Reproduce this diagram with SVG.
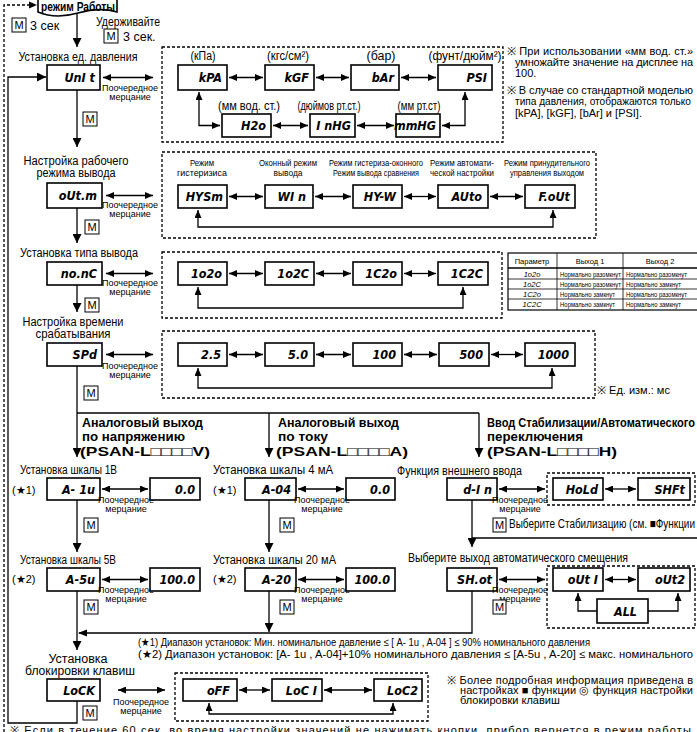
<svg xmlns="http://www.w3.org/2000/svg" width="697" height="732" viewBox="0 0 697 732">
<defs>
<marker id="ah" viewBox="0 0 8 7" refX="8" refY="3.5" markerWidth="8" markerHeight="7" markerUnits="userSpaceOnUse" orient="auto-start-reverse"><path d="M0,0L8,3.5L0,7z" fill="#000"/></marker>
<marker id="ab" viewBox="0 0 9 9" refX="9" refY="4.5" markerWidth="9" markerHeight="9" markerUnits="userSpaceOnUse" orient="auto-start-reverse"><path d="M0,0L9,4.5L0,9z" fill="#000"/></marker>
</defs>
<style>
.bx{fill:#fff;stroke:#000;stroke-width:1.6}
.dsh{fill:none;stroke:#000;stroke-width:1.3;stroke-dasharray:3 2}
.ln{fill:none;stroke:#000;stroke-width:1.3}
.lr{fill:none;stroke:#000;stroke-width:1.3;marker-start:url(#ah);marker-end:url(#ah)}
.la{fill:none;stroke:#000;stroke-width:1.3;marker-end:url(#ab)}
.ls{fill:none;stroke:#000;stroke-width:1.3;marker-start:url(#ah)}
.d{font-family:"DejaVu Sans Condensed","DejaVu Sans",sans-serif;font-stretch:condensed;font-weight:bold;font-style:oblique;font-size:12.5px;text-anchor:end}
.t{font-family:"Liberation Sans Narrow","Liberation Sans",sans-serif;font-size:12.5px}
.n{font-family:"Liberation Sans Narrow","Liberation Sans",sans-serif;font-size:11px}
.s{font-family:"Liberation Sans Narrow","Liberation Sans",sans-serif;font-size:9px;text-anchor:middle}
.q{font-family:"Liberation Sans Narrow","Liberation Sans",sans-serif;font-size:8.5px;text-anchor:middle}
.c{text-anchor:middle}
.b{font-family:"Liberation Sans",sans-serif;font-weight:bold;font-size:13px}
.mb{fill:#fff;stroke:#000;stroke-width:1}
.m{font-family:"Liberation Sans",sans-serif;font-size:11px;text-anchor:middle}
.tb{font-family:"Liberation Sans Narrow","Liberation Sans",sans-serif;font-size:7.5px}
</style>
<rect width="697" height="732" fill="#fff"/>

<g id="connectors">
<path class="dsh" d="M4,732V5H30"/>
<path d="M29,1.5L37,5L29,8.5z" fill="#000"/>
<path class="la" d="M77,14V47"/>
<path class="la" d="M77,90V147"/>
<path class="la" d="M77,208V243"/>
<path class="la" d="M77,285V312"/>
<path class="la" d="M77,366V457"/>
<path class="ln" d="M77,413H479"/>
<path class="la" d="M269,413V457"/>
<path class="la" d="M479,413V457"/>
<path class="la" d="M77,500V552"/>
<path class="la" d="M269,500V552"/>
<path class="la" d="M472,500V547"/>
<path class="ln" d="M472,538H697"/>
<path class="la" d="M77,591V650"/>
<path class="la" d="M269,591V632"/>
<path class="ln" d="M472,591V633H79"/>
<path d="M87,629.5L78,633L87,636.5z" fill="#000"/>
<path class="la" d="M77,701V723H8V77H46"/>
<path class="lr" d="M103,77.5H153"/>
<path class="lr" d="M106,195.5H153"/>
<path class="lr" d="M106,273.5H153"/>
<path class="lr" d="M106,354.5H153"/>
<path class="lr" d="M102,489H148"/>
<path class="lr" d="M102,579.5H148"/>
<path class="lr" d="M298,489H344"/>
<path class="lr" d="M298,579.5H344"/>
<path class="lr" d="M499,489H545"/>
<path class="lr" d="M499,579.5H545"/>
<path class="lr" d="M118,690H165"/>
<path class="lr" d="M229,77.5H263"/>
<path class="lr" d="M316,77.5H349"/>
<path class="lr" d="M401,77.5H436"/>
<path class="lr" d="M273,125.5H308"/>
<path class="lr" d="M357,125.5H394"/>
<path class="lr" d="M199,92V125.5H220"/>
<path class="lr" d="M465,92V125.5H442"/>
<path class="lr" d="M229,196.5H263"/>
<path class="lr" d="M315,196.5H351"/>
<path class="lr" d="M404,196.5H436"/>
<path class="lr" d="M490,196.5H523"/>
<path class="lr" d="M198,210V227H553V210"/>
<path class="lr" d="M229,273.5H263"/>
<path class="lr" d="M316,273.5H351"/>
<path class="lr" d="M404,273.5H436"/>
<path class="lr" d="M198,287V308H463V287"/>
<path class="lr" d="M229,354.5H263"/>
<path class="lr" d="M316,354.5H351"/>
<path class="lr" d="M404,354.5H437"/>
<path class="lr" d="M491,354.5H523"/>
<path class="lr" d="M198,368V388H552V368"/>
<path class="lr" d="M605,489H636"/>
<path class="lr" d="M605,579.5H636"/>
<path class="ls" d="M578,593V611H597"/>
<path class="ls" d="M678,593V611H648"/>
<path class="lr" d="M239,690H270"/>
<path class="lr" d="M324,690H372"/>
<path class="lr" d="M209,703V714H393V703"/>
</g>

<rect class="dsh" x="162" y="47" width="341" height="95"/>
<rect class="dsh" x="162" y="152" width="434" height="86"/>
<rect class="dsh" x="162" y="252" width="340" height="66"/>
<rect class="dsh" x="162" y="331" width="433" height="67"/>
<rect class="dsh" x="547" y="473" width="148" height="32"/>
<rect class="dsh" x="547" y="566" width="148" height="62"/>
<rect class="dsh" x="175" y="673" width="253" height="48"/>

<g id="run-mode">
<path class="bx" d="M38,-2H117V12C104,8 92,9 78,13C64,17 50,17 38,12Z"/>
<text class="b c" x="78" y="10.5" font-size="12" textLength="74" lengthAdjust="spacingAndGlyphs">режим Работы</text>
</g>
<g id="m-top"><rect class="mb" x="12" y="18" width="14" height="14"/><text class="m" x="19" y="29">M</text><text class="t" x="30" y="30">3 сек</text></g>
<g id="hold"><text class="t" x="96" y="26" textLength="64" lengthAdjust="spacingAndGlyphs">Удерживайте</text><rect class="mb" x="104" y="29" width="14" height="14"/><text class="m" x="111" y="40">M</text><text class="t" x="123" y="41">3 сек.</text></g>

<g id="unit">
<text class="t c" x="78" y="61" textLength="119" lengthAdjust="spacingAndGlyphs">Установка ед. давления</text>
<rect class="bx" x="47" y="65" width="53" height="25"/><text class="d" x="95" y="82">UnI t</text>
<text class="s" x="130" y="91">Поочередное</text><text class="s" x="130" y="100">мерцание</text>
<rect class="mb" x="83" y="112" width="14" height="14"/><text class="m" x="90" y="123">M</text>
</g>
<g id="outm">
<text class="t c" x="76" y="165" textLength="105" lengthAdjust="spacingAndGlyphs">Настройка рабочего</text>
<text class="t c" x="76" y="177" textLength="79" lengthAdjust="spacingAndGlyphs">режима вывода</text>
<rect class="bx" x="47" y="183" width="55" height="25"/><text class="d" x="97" y="200">oUt.m</text>
<text class="s" x="130" y="208">Поочередное</text><text class="s" x="130" y="217">мерцание</text>
<rect class="mb" x="85" y="220" width="14" height="14"/><text class="m" x="92" y="231">M</text>
</g>
<g id="nonc">
<text class="t c" x="79" y="257" textLength="118" lengthAdjust="spacingAndGlyphs">Установка типа вывода</text>
<rect class="bx" x="47" y="262" width="55" height="23"/><text class="d" x="97" y="278">no.nC</text>
<text class="s" x="130" y="286">Поочередное</text><text class="s" x="130" y="295">мерцание</text>
<rect class="mb" x="85" y="298" width="14" height="14"/><text class="m" x="92" y="309">M</text>
</g>
<g id="spd">
<text class="t c" x="73" y="326" font-size="12" textLength="101" lengthAdjust="spacingAndGlyphs">Настройка времени</text>
<text class="t c" x="73" y="338" font-size="12" textLength="75" lengthAdjust="spacingAndGlyphs">срабатывания</text>
<rect class="bx" x="47" y="343" width="55" height="23"/><text class="d" x="97" y="359">SPd</text>
<text class="s" x="130" y="369">Поочередное</text><text class="s" x="130" y="378">мерцание</text>
<rect class="mb" x="84" y="386" width="14" height="14"/><text class="m" x="91" y="397">M</text>
</g>

<g id="units">
<text class="t c" x="203" y="60" font-size="12" textLength="25" lengthAdjust="spacingAndGlyphs">(кПа)</text>
<text class="t c" x="288" y="60" font-size="12" textLength="42" lengthAdjust="spacingAndGlyphs">(кгс/см²)</text>
<text class="t c" x="381" y="60" font-size="12" textLength="29" lengthAdjust="spacingAndGlyphs">(бар)</text>
<text class="t c" x="465" y="60" font-size="12" textLength="73" lengthAdjust="spacingAndGlyphs">(фунт/дюйм²)</text>
<rect class="bx" x="178" y="65" width="49" height="25"/><text class="d" x="222" y="82">kPA</text>
<rect class="bx" x="265" y="65" width="49" height="25"/><text class="d" x="309" y="82">kGF</text>
<rect class="bx" x="351" y="65" width="48" height="25"/><text class="d" x="394" y="82">bAr</text>
<rect class="bx" x="438" y="65" width="54" height="25"/><text class="d" x="487" y="82">PSI</text>
<text class="t c" x="249" y="110" font-size="12" textLength="62" lengthAdjust="spacingAndGlyphs">(мм вод. ст.)</text>
<text class="t c" x="329" y="110" font-size="12" textLength="63" lengthAdjust="spacingAndGlyphs">(дюймов рт.ст.)</text>
<text class="t c" x="419" y="110" font-size="12" textLength="43" lengthAdjust="spacingAndGlyphs">(мм рт.ст)</text>
<rect class="bx" x="222" y="114" width="49" height="23"/><text class="d" x="266" y="130">H2o</text>
<rect class="bx" x="310" y="114" width="45" height="23"/><text class="d" x="351" y="130">I nHG</text>
<rect class="bx" x="396" y="114" width="44" height="23"/><text class="d" x="436" y="130">mmHG</text>
</g>
<g id="notes-top">
<text class="n" x="507" y="55" textLength="186" lengthAdjust="spacing">※ При использовании «мм вод. ст.»</text>
<text class="n" x="515" y="66" textLength="178" lengthAdjust="spacing">умножайте значение на дисплее на</text>
<text class="n" x="515" y="77">100.</text>
<text class="n" x="507" y="94" textLength="186" lengthAdjust="spacing">※ В случае со стандартной моделью</text>
<text class="n" x="515" y="105" textLength="176" lengthAdjust="spacingAndGlyphs">типа давления, отображаются только</text>
<text class="n" x="515" y="117">[kPA], [kGF], [bAr] и [PSI].</text>
</g>

<g id="modes">
<text class="q" x="202" y="166" textLength="24" lengthAdjust="spacingAndGlyphs">Режим</text><text class="q" x="202" y="176" textLength="50" lengthAdjust="spacingAndGlyphs">гистеризиса</text>
<text class="q" x="288" y="166" textLength="58" lengthAdjust="spacingAndGlyphs">Оконный режим</text><text class="q" x="288" y="176" textLength="29" lengthAdjust="spacingAndGlyphs">вывода</text>
<text class="q" x="376" y="166" textLength="94" lengthAdjust="spacingAndGlyphs">Режим гистериза-оконного</text><text class="q" x="376" y="176" textLength="86" lengthAdjust="spacingAndGlyphs">Режим вывода сравнения</text>
<text class="q" x="462" y="166" textLength="64" lengthAdjust="spacingAndGlyphs">Режим автомати-</text><text class="q" x="462" y="176" textLength="64" lengthAdjust="spacingAndGlyphs">ческой настройки</text>
<text class="q" x="547" y="166" textLength="86" lengthAdjust="spacingAndGlyphs">Режим принудительного</text><text class="q" x="547" y="176" textLength="74" lengthAdjust="spacingAndGlyphs">управления выходом</text>
<rect class="bx" x="178" y="185" width="49" height="23"/><text class="d" x="223" y="201">HYSm</text>
<rect class="bx" x="265" y="185" width="48" height="23"/><text class="d" x="306" y="201">WI n</text>
<rect class="bx" x="353" y="185" width="49" height="23"/><text class="d" x="396" y="201">HY-W</text>
<rect class="bx" x="438" y="185" width="50" height="23"/><text class="d" x="482" y="201">AUto</text>
<rect class="bx" x="525" y="185" width="50" height="23"/><text class="d" x="570" y="201">F.oUt</text>
</g>

<g id="types">
<rect class="bx" x="178" y="262" width="49" height="23"/><text class="d" x="222" y="278">1o2o</text>
<rect class="bx" x="265" y="262" width="49" height="23"/><text class="d" x="309" y="278">1o2C</text>
<rect class="bx" x="353" y="262" width="49" height="23"/><text class="d" x="397" y="278">1C2o</text>
<rect class="bx" x="438" y="262" width="50" height="23"/><text class="d" x="483" y="278">1C2C</text>
</g>
<g id="table">
<rect x="508" y="253" width="192" height="57" fill="#fff" stroke="#000" stroke-width="1.2"/>
<path d="M557,253V310M623,253V310M508,279H700M508,289H700M508,299H700" stroke="#000" stroke-width="0.8" fill="none"/>
<path d="M508,268H700" stroke="#000" stroke-width="1.3"/>
<text class="tb c" x="532" y="264" font-size="10">Параметр</text>
<text class="tb c" x="590" y="264" font-size="10">Выход 1</text>
<text class="tb c" x="660" y="264" font-size="10">Выход 2</text>
<text class="tb c" x="532" y="276.5" font-style="italic">1o2o</text>
<text class="tb c" x="532" y="286.5" font-style="italic">1o2C</text>
<text class="tb c" x="532" y="296.5" font-style="italic">1C2o</text>
<text class="tb c" x="532" y="306.5" font-style="italic">1C2C</text>
<text class="tb" x="560" y="276.5" textLength="61" lengthAdjust="spacingAndGlyphs">Нормально разомкнут</text>
<text class="tb" x="560" y="286.5" textLength="61" lengthAdjust="spacingAndGlyphs">Нормально разомкнут</text>
<text class="tb" x="560" y="296.5" textLength="55" lengthAdjust="spacingAndGlyphs">Нормально замкнут</text>
<text class="tb" x="560" y="306.5" textLength="55" lengthAdjust="spacingAndGlyphs">Нормально замкнут</text>
<text class="tb" x="626" y="276.5" textLength="61" lengthAdjust="spacingAndGlyphs">Нормально разомкнут</text>
<text class="tb" x="626" y="286.5" textLength="55" lengthAdjust="spacingAndGlyphs">Нормально замкнут</text>
<text class="tb" x="626" y="296.5" textLength="61" lengthAdjust="spacingAndGlyphs">Нормально разомкнут</text>
<text class="tb" x="626" y="306.5" textLength="55" lengthAdjust="spacingAndGlyphs">Нормально замкнут</text>
</g>

<g id="times">
<rect class="bx" x="178" y="343" width="49" height="23"/><text class="d" x="221" y="359">2.5</text>
<rect class="bx" x="265" y="343" width="49" height="23"/><text class="d" x="308" y="359">5.0</text>
<rect class="bx" x="353" y="343" width="49" height="23"/><text class="d" x="396" y="359">100</text>
<rect class="bx" x="439" y="343" width="50" height="23"/><text class="d" x="483" y="359">500</text>
<rect class="bx" x="525" y="343" width="50" height="23"/><text class="d" x="569" y="359">1000</text>
<text class="n" x="597" y="394">※ Ед. изм.: мс</text>
</g>

<g id="head-v">
<text class="b" x="82" y="427" textLength="121" lengthAdjust="spacingAndGlyphs">Аналоговый выход</text>
<text class="b" x="82" y="441" textLength="103" lengthAdjust="spacingAndGlyphs">по напряжению</text>
<text class="b" x="80" y="456" textLength="130" lengthAdjust="spacingAndGlyphs">(PSAN-L□□□□V)</text>
</g>
<g id="head-a">
<text class="b" x="278" y="427" textLength="121" lengthAdjust="spacingAndGlyphs">Аналоговый выход</text>
<text class="b" x="278" y="441" textLength="50" lengthAdjust="spacingAndGlyphs">по току</text>
<text class="b" x="276" y="456" textLength="132" lengthAdjust="spacingAndGlyphs">(PSAN-L□□□□A)</text>
</g>
<g id="head-h">
<text class="b" x="487" y="427" textLength="208" lengthAdjust="spacingAndGlyphs">Ввод Стабилизации/Автоматического</text>
<text class="b" x="487" y="441" textLength="96" lengthAdjust="spacingAndGlyphs">переключения</text>
<text class="b" x="487" y="456" textLength="130" lengthAdjust="spacingAndGlyphs">(PSAN-L□□□□H)</text>
</g>

<g id="a1u">
<text class="t" x="20" y="474" textLength="97" lengthAdjust="spacingAndGlyphs">Установка шкалы 1В</text>
<text class="n" x="12" y="494">(★1)</text>
<rect class="bx" x="47" y="478" width="53" height="22"/><text class="d" x="95" y="494">A- 1u</text>
<text class="s" x="126" y="503">Поочередное</text><text class="s" x="126" y="512">мерцание</text>
<rect class="mb" x="84" y="518" width="14" height="14"/><text class="m" x="91" y="529">M</text>
</g>
<g id="v00"><rect class="bx" x="150" y="478" width="50" height="22"/><text class="d" x="195" y="494">0.0</text></g>
<g id="a5u">
<text class="t" x="20" y="564" textLength="96" lengthAdjust="spacingAndGlyphs">Установка шкалы 5В</text>
<text class="n" x="12" y="583">(★2)</text>
<rect class="bx" x="47" y="568" width="53" height="23"/><text class="d" x="95" y="584">A-5u</text>
<text class="s" x="126" y="593">Поочередное</text><text class="s" x="126" y="602">мерцание</text>
<rect class="mb" x="84" y="600" width="14" height="14"/><text class="m" x="91" y="611">M</text>
</g>
<g id="v100"><rect class="bx" x="150" y="568" width="50" height="23"/><text class="d" x="195" y="584">100.0</text></g>

<g id="a04">
<text class="t" x="213" y="474" textLength="120" lengthAdjust="spacingAndGlyphs">Установка шкалы 4 мА</text>
<text class="n" x="213" y="494">(★1)</text>
<rect class="bx" x="245" y="478" width="51" height="22"/><text class="d" x="291" y="494">A-04</text>
<text class="s" x="322" y="503">Поочередное</text><text class="s" x="322" y="512">мерцание</text>
<rect class="mb" x="280" y="518" width="14" height="14"/><text class="m" x="287" y="529">M</text>
</g>
<g id="c00"><rect class="bx" x="346" y="478" width="49" height="22"/><text class="d" x="390" y="494">0.0</text></g>
<g id="a20">
<text class="t" x="213" y="564" textLength="123" lengthAdjust="spacingAndGlyphs">Установка шкалы 20 мА</text>
<text class="n" x="213" y="583">(★2)</text>
<rect class="bx" x="245" y="568" width="51" height="23"/><text class="d" x="291" y="584">A-20</text>
<text class="s" x="322" y="593">Поочередное</text><text class="s" x="322" y="602">мерцание</text>
<rect class="mb" x="280" y="600" width="14" height="14"/><text class="m" x="287" y="611">M</text>
</g>
<g id="c100"><rect class="bx" x="346" y="568" width="49" height="23"/><text class="d" x="390" y="584">100.0</text></g>

<g id="din">
<text class="t" x="397" y="475" textLength="125" lengthAdjust="spacingAndGlyphs">Функция внешнего ввода</text>
<rect class="bx" x="447" y="478" width="50" height="22"/><text class="d" x="492" y="494">d-I n</text>
<text class="s" x="520" y="503">Поочередное</text><text class="s" x="520" y="512">мерцание</text>
<rect class="mb" x="493" y="518" width="13" height="14"/><text class="m" x="499.5" y="529">M</text>
<text class="t" x="509" y="528" textLength="186" lengthAdjust="spacingAndGlyphs">Выберите Стабилизацию (см. ■Функции</text>
</g>
<g id="hold-box"><rect class="bx" x="553" y="478" width="50" height="22"/><text class="d" x="598" y="494">HoLd</text></g>
<g id="shft-box"><rect class="bx" x="638" y="478" width="52" height="22"/><text class="d" x="685" y="494">SHFt</text></g>
<g id="shot">
<text class="t" x="408" y="562" textLength="220" lengthAdjust="spacingAndGlyphs">Выберите выход автоматического смещения</text>
<rect class="bx" x="447" y="568" width="50" height="23"/><text class="d" x="492" y="584">SH.ot</text>
<text class="s" x="520" y="593">Поочередное</text><text class="s" x="520" y="602">мерцание</text>
<rect class="mb" x="493" y="600" width="13" height="14"/><text class="m" x="499.5" y="611">M</text>
</g>
<g id="out1"><rect class="bx" x="553" y="568" width="50" height="23"/><text class="d" x="598" y="584">oUt I</text></g>
<g id="out2"><rect class="bx" x="638" y="568" width="52" height="23"/><text class="d" x="685" y="584">oUt2</text></g>
<g id="all"><rect class="bx" x="597" y="599" width="51" height="24"/><text class="d" x="637" y="616">ALL</text></g>

<g id="star-notes">
<text class="n" x="138" y="646" textLength="452" lengthAdjust="spacingAndGlyphs">(★1) Диапазон установок: Мин. номинальное давление ≤ [ A- 1u , A-04 ] ≤  90% номинального давления</text>
<text class="n" x="138" y="658" textLength="555" lengthAdjust="spacingAndGlyphs">(★2) Диапазон установок: [A- 1u , A-04]+10% номинального давления ≤ [A-5u , A-20] ≤ макс. номинального</text>
</g>

<g id="lock">
<text class="t c" x="78" y="663">Установка</text>
<text class="t c" x="80" y="675" textLength="110" lengthAdjust="spacingAndGlyphs">блокировки клавиш</text>
<rect class="bx" x="47" y="679" width="53" height="22"/><text class="d" x="95" y="695">LoCK</text>
<text class="s" x="141" y="705">Поочередное</text><text class="s" x="141" y="714">мерцание</text>
<rect class="mb" x="83" y="706" width="14" height="14"/><text class="m" x="90" y="717">M</text>
</g>
<g id="off"><rect class="bx" x="183" y="679" width="54" height="22"/><text class="d" x="230" y="695">oFF</text></g>
<g id="loc1"><rect class="bx" x="272" y="679" width="50" height="22"/><text class="d" x="317" y="695">LoC I</text></g>
<g id="loc2"><rect class="bx" x="374" y="679" width="48" height="22"/><text class="d" x="418" y="695">LoC2</text></g>
<g id="lock-note">
<text class="n" x="447" y="684" font-size="10.5" textLength="246" lengthAdjust="spacing">※ Более подробная информация приведена в</text>
<text class="n" x="460" y="694" font-size="10.5" textLength="233" lengthAdjust="spacing">настройках ■ функции ◎ функция настройки</text>
<text class="n" x="460" y="704" font-size="10.5">блокировки клавиш</text>
</g>
<text class="n" x="10" y="734" textLength="685" lengthAdjust="spacing">※ Если в течение 60 сек. во время настройки значений не нажимать кнопки, прибор вернется в режим работы.</text>
</svg>
